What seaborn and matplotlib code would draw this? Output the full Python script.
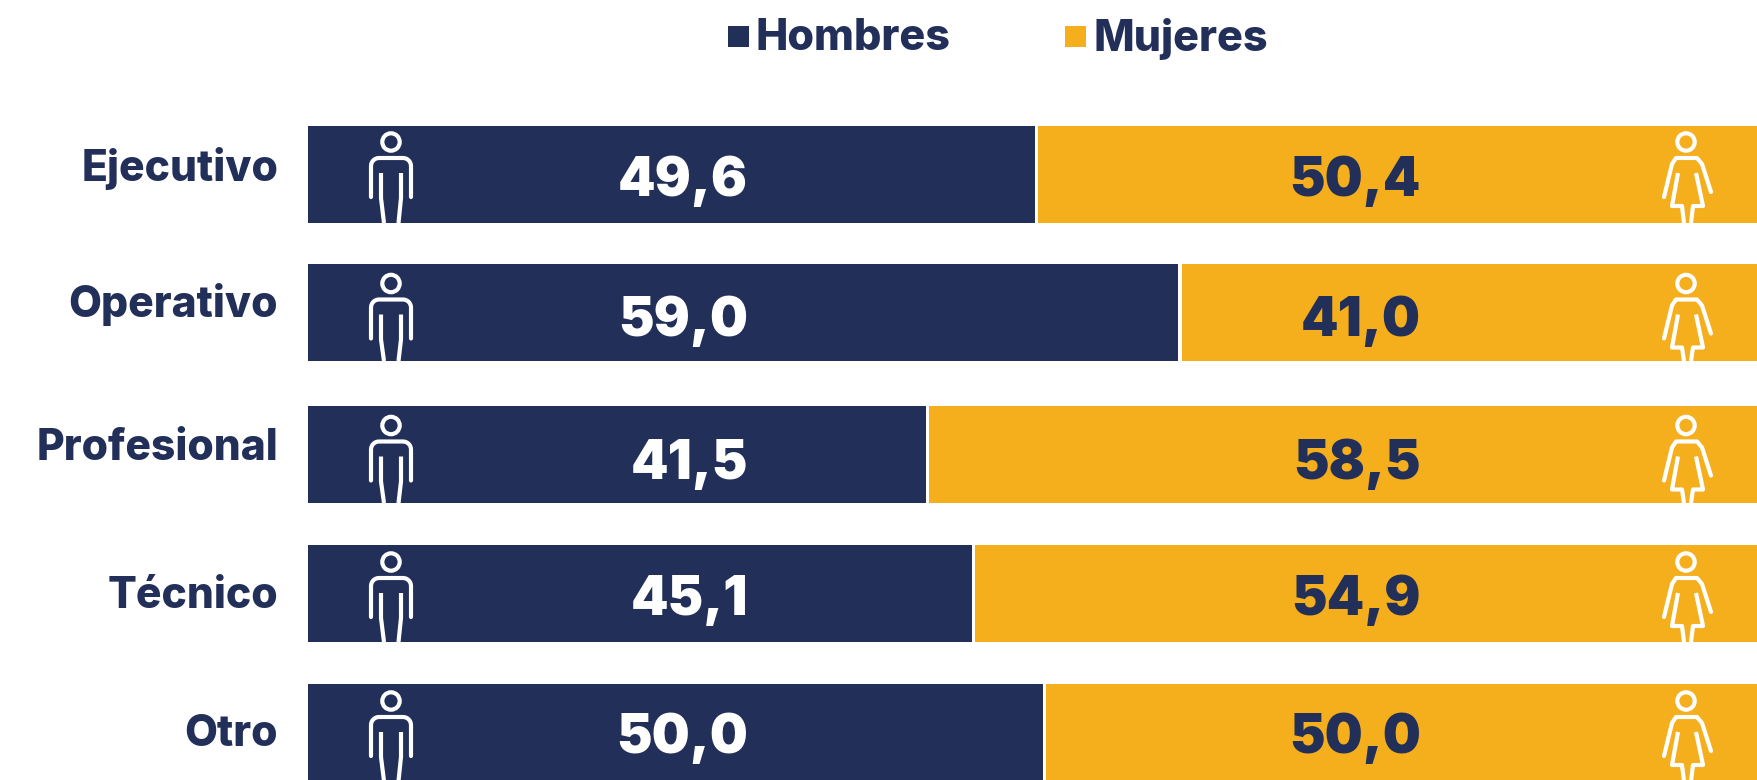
#!/usr/bin/env python3
# -*- coding: utf-8 -*-

import matplotlib
matplotlib.use('Agg')
import numpy as np
import pandas as pd
import matplotlib.pyplot as plt
import seaborn as sns

categories = ['Ejecutivo', 'Operativo', 'Profesional', 'Técnico', 'Otro']
# bar lengths as measured on the picture, they differ a little from the printed labels
hombres = [49.3, 59.0, 41.9, 45.0, 49.8]
total = [100, 100, 100, 100, 100]
hombres_labels = ['49,6', '59,0', '41,5', '45,1', '50,0']
mujeres_labels = ['50,4', '41,0', '58,5', '54,9', '50,0']

NAVY = '#212F59'
GOLD = '#F5AE1C'
W, H = 1757, 780
PX_PER_UNIT = 14.75
GAP_PX = 3.3

# layout in figure pixels
row_tops = np.array([126, 264, 406, 545, 684])
BAR_H = 97
cat_y = [164, 300, 444, 592, 730]
num_y = [176, 316, 459, 595, 733]
icon_shift = [0, 3.5, 3.5, 1, 1]


def draw_icons(px, top, shift):
    # outline figures, coordinates relative to bar top
    kw = dict(color='white', lw=3.0, solid_capstyle='round', solid_joinstyle='round')
    leg = dict(kw, solid_capstyle='butt')
    bottom = top + BAR_H
    y0 = top + shift

    # man
    px.add_patch(plt.Circle((391, y0 + 16), 8.7, fill=False, ec='white', lw=3.0))
    t = np.linspace(np.pi, 1.5 * np.pi, 8)
    ax_, ay_ = 379 + 8 * np.cos(t), y0 + 40 + 8 * np.sin(t)
    bx_, by_ = 403 - 8 * np.cos(t[::-1]), y0 + 40 + 8 * np.sin(t[::-1])
    xs = np.r_[371, ax_, bx_, 411]
    ys = np.r_[y0 + 71, ay_, by_, y0 + 71]
    px.plot(xs, ys, **kw)
    px.plot([381, 381, 384], [y0 + 47, y0 + 72, bottom], **leg)
    px.plot([401, 401, 398.5], [y0 + 47, y0 + 72, bottom], **leg)

    # woman
    px.add_patch(plt.Circle((1686, y0 + 16), 8.7, fill=False, ec='white', lw=3.0))
    px.plot([1664, 1672, 1676, 1697, 1702, 1711],
            [y0 + 71, y0 + 38, y0 + 32, y0 + 32, y0 + 38, y0 + 66], **kw)
    px.plot([1678, 1672, 1682, 1684],
            [y0 + 47, y0 + 80, y0 + 80, bottom], **leg)
    px.plot([1696, 1703, 1693, 1691],
            [y0 + 47, y0 + 80, y0 + 80, bottom], **leg)


def main():
    sns.set_theme(style='white')
    plt.rcParams['font.family'] = ['Inter', 'DejaVu Sans']

    centers = row_tops + BAR_H / 2
    df = pd.DataFrame({'categoria': categories, 'y': centers,
                       'hombres': hombres, 'total': total})
    df['corte'] = df['hombres'] + GAP_PX / PX_PER_UNIT

    fig = plt.figure(figsize=(W / 100, H / 100), dpi=100)
    ax = fig.add_axes([308 / W, 0, 1 - 308 / W, 1])

    # three layers so the white gap between segments stays clean
    rel = BAR_H / np.diff(centers).min()
    for col, c in [('total', GOLD), ('corte', 'white'), ('hombres', NAVY)]:
        sns.barplot(data=df, x=col, y='y', orient='h', native_scale=True,
                    color=c, width=rel, saturation=1, linewidth=0, ax=ax)
    ax.set_xlim(0, (W - 308) / PX_PER_UNIT)
    ax.set_ylim(H, 0)
    ax.axis('off')

    # overlay in pixel coordinates for text and icons
    px = fig.add_axes([0, 0, 1, 1], facecolor='none')
    px.set_xlim(0, W)
    px.set_ylim(H, 0)
    px.axis('off')

    for i, top in enumerate(row_tops):
        draw_icons(px, top, icon_shift[i])
        px.text(278, cat_y[i], categories[i], ha='right', va='center_baseline',
                fontsize=30.7, fontweight='heavy', color=NAVY)
        px.text(748, num_y[i], hombres_labels[i], ha='right', va='center_baseline',
                fontsize=38.5, fontweight='black', color='white')
        px.text(1421, num_y[i], mujeres_labels[i], ha='right', va='center_baseline',
                fontsize=38.5, fontweight='black', color=NAVY)

    # legend
    px.add_patch(plt.Rectangle((728, 26), 21, 21, color=NAVY, lw=0))
    px.add_patch(plt.Rectangle((1065, 26), 21, 21, color=GOLD, lw=0))
    px.text(755, 50.5, 'Hombres', ha='left', va='baseline', fontsize=31,
            fontweight='heavy', color=NAVY)
    px.text(1093, 50.5, 'Mujeres', ha='left', va='baseline', fontsize=31,
            fontweight='heavy', color=NAVY)

    fig.savefig('out.png', dpi=100)
    plt.close(fig)


if __name__ == '__main__':
    main()
